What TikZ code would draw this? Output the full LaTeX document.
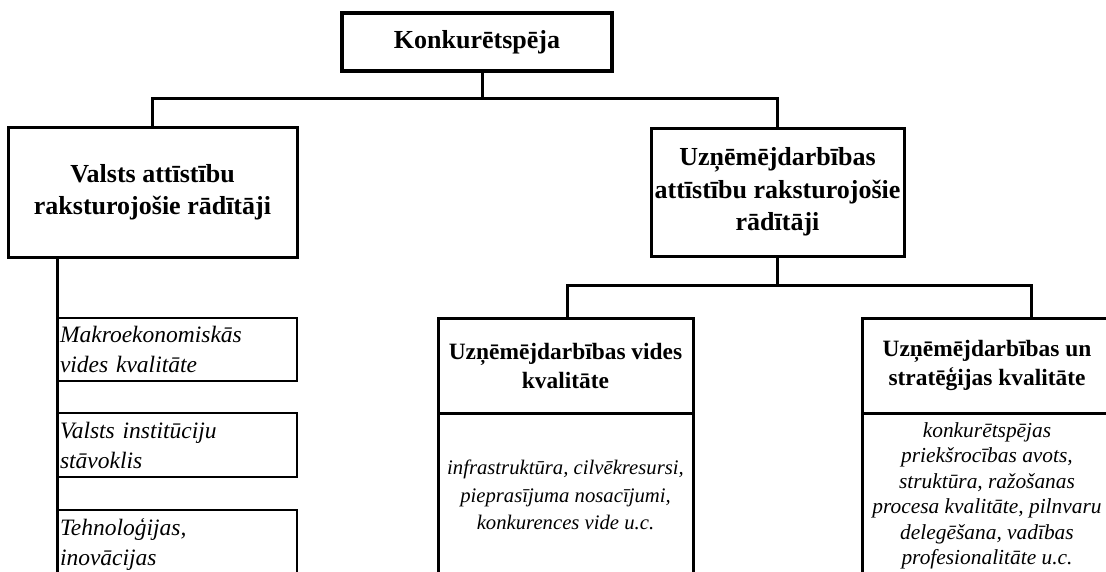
\documentclass[tikz,border=0pt]{standalone}
\usepackage{fontspec}
\setmainfont{Liberation Serif}
\begin{document}
\begin{tikzpicture}[x=1pt,y=-1pt,
  box/.style={draw, rectangle, line width=3pt, inner sep=0pt, outer sep=0pt, align=center},
  topbox/.style={box, line width=4.5pt, font=\fontsize{26}{32}\selectfont\bfseries},
  headbox/.style={box, font=\fontsize{26}{32.5}\selectfont\bfseries},
  subhead/.style={box, font=\fontsize{23.4}{29}\selectfont\bfseries},
  midbody/.style={box, font=\fontsize{20.7}{27.5}\selectfont\itshape},
  rightbody/.style={box, font=\fontsize{21.4}{25.5}\selectfont\itshape},
  itembox/.style={draw, rectangle, line width=2.6pt, inner xsep=3pt, inner ysep=0pt, outer sep=0pt,
    text width=234pt, minimum width=240pt, align=left,
    font=\fontsize{23.5}{30}\selectfont\itshape},
  link/.style={line width=3pt}
]
\useasboundingbox (0,0) rectangle (1106,571);
\fill[white] (0,0) rectangle (1106,571);
\clip (0,0) rectangle (1106,571);

% top level
\node[topbox, minimum width=270pt, minimum height=58pt] (top) at (477,42) {Konkurētspēja};

% second level
\node[headbox, minimum width=289pt, minimum height=130pt] (lh) at (152.5,192)
  {Valsts attīstību\\raksturojošie rādītāji};
\node[headbox, minimum width=253pt, minimum height=128pt] (rh) at (777.5,192)
  {Uzņēmējdarbības\\attīstību raksturojošie\\rādītāji};

% national indicators
\node[itembox, minimum height=63pt] (s1) at (177,349.5) {Makroekonomiskās\\vides kvalitāte};
\node[itembox, minimum height=64pt] (s2) at (177,445) {Valsts institūciju\\stāvoklis};
\node[itembox, minimum height=68pt] (s3) at (177,544) {Tehnoloģijas,\\inovācijas};

% business indicators
\node[subhead, minimum width=255pt, minimum height=95pt] (mh) at (565.5,365.5)
  {Uzņēmējdarbības vides\\kvalitāte};
\node[midbody, minimum width=255pt, minimum height=164pt, anchor=north] (mb) at (mh.south)
  {infrastruktūra, cilvēkresursi,\\pieprasījuma nosacījumi,\\konkurences vide u.c.};
\node[subhead, minimum width=250pt, minimum height=95pt] (qh) at (987,365.5)
  {Uzņēmējdarbības un\\stratēģijas kvalitāte};
\node[rightbody, minimum width=250pt, minimum height=166pt, anchor=north] (qb) at (qh.south)
  {konkurētspējas\\priekšrocības avots,\\struktūra, ražošanas\\procesa kvalitāte, pilnvaru\\delegēšana, vadības\\profesionalitāte u.c.};

% junction points of the tree
\coordinate (j1) at (482,98);
\coordinate (j2) at (777.5,285);
\coordinate (b1) at (567,285);
\coordinate (b2) at (1031,285);
\coordinate (sx) at (57.5,0);

% connectors
\draw[link] (j1 |- top.south) -- (j1);
\draw[link] (lh.north) |- (j1) -| (rh.north);
\draw[link] (rh.south) -- (j2);
\draw[link] (b1 |- mh.north) -- (b1) -- (b2) -- (b2 |- qh.north);
\draw[link] (sx |- lh.south) -- (sx |- s3.south);
\end{tikzpicture}
\end{document}
